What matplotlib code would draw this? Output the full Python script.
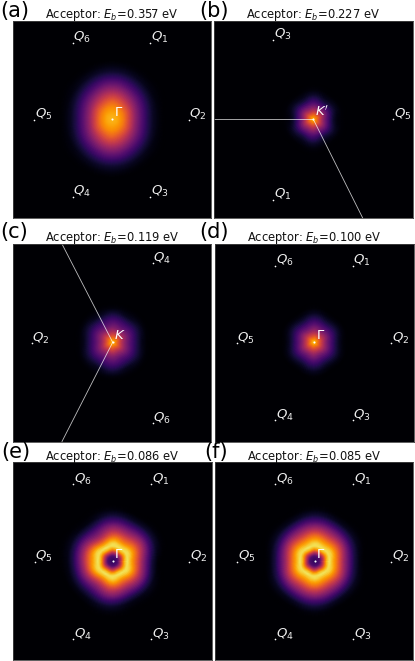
import numpy as np
import matplotlib
matplotlib.use("Agg")
import matplotlib.pyplot as plt

W, H = 415, 661

# Density read along rays from each panel centre (inferno scale 0-1).
# Rows: rays at 0, 30, 60, 90 degrees (mirrored) or every 30 degrees for (e).
radii_a = [0, 6, 12, 18, 24, 30, 36, 42, 48, 54, 60]
rays_a = [[.84, .81, .71, .55, .38, .25, .14, .06, .02, 0, 0],
          [.84, .81, .72, .58, .42, .29, .18, .09, .03, .01, 0],
          [.84, .81, .74, .62, .49, .36, .24, .14, .06, .02, 0],
          [.84, .81, .75, .65, .53, .40, .28, .17, .08, .03, 0]]
radii_b = [0, 3, 6, 9, 12, 15, 18, 21, 25, 30, 36]
rays_b = [[.85, .73, .60, .46, .34, .24, .15, .08, .03, .01, 0],
          [.85, .74, .61, .48, .37, .27, .18, .11, .05, .01, 0],
          [.85, .73, .60, .47, .36, .27, .18, .11, .05, .01, 0],
          [.85, .74, .61, .48, .37, .28, .20, .14, .07, .02, 0]]
radii_c = [0, 3, 6, 9, 12, 15, 18, 22, 26, 30, 35, 40]
rays_c = [[.85, .75, .63, .51, .41, .33, .26, .18, .11, .05, .01, 0],
          [.85, .76, .64, .53, .43, .35, .28, .20, .13, .07, .02, 0],
          [.85, .75, .63, .52, .42, .34, .27, .20, .13, .06, .02, 0],
          [.85, .76, .64, .53, .43, .35, .29, .22, .15, .08, .02, 0]]
radii_d = [0, 3, 6, 9, 12, 15, 18, 22, 26, 30, 35, 40]
rays_d = [[.88, .75, .62, .50, .39, .30, .22, .13, .06, .02, 0, 0],
          [.88, .76, .63, .51, .41, .32, .24, .15, .08, .03, 0, 0],
          [.88, .75, .62, .51, .40, .31, .24, .15, .08, .03, 0, 0],
          [.88, .76, .63, .51, .41, .33, .26, .18, .11, .05, .01, 0]]
radii_ef = [0, 5, 9, 12, 15, 18, 22, 26, 30, 35, 40, 46, 52, 58]
rays_e = [[.16, .24, .56, .83, .94, .86, .73, .59, .43, .26, .11, .02, 0, 0],
          [.16, .24, .54, .80, .93, .90, .77, .65, .52, .37, .21, .08, .02, 0],
          [.16, .24, .56, .83, .94, .87, .73, .61, .48, .34, .20, .07, .01, 0],
          [.16, .24, .54, .80, .93, .90, .76, .61, .48, .35, .21, .09, .02, 0],
          [.16, .24, .56, .83, .94, .85, .67, .50, .38, .26, .14, .04, .01, 0],
          [.16, .24, .54, .80, .93, .89, .74, .58, .43, .28, .14, .04, .01, 0],
          [.16, .24, .55, .82, .94, .88, .76, .62, .46, .29, .14, .04, .01, 0],
          [.16, .24, .54, .80, .93, .89, .74, .57, .41, .25, .12, .03, 0, 0],
          [.16, .24, .56, .83, .94, .86, .69, .53, .40, .27, .15, .05, .01, 0],
          [.16, .24, .54, .80, .93, .90, .77, .62, .48, .34, .19, .07, .02, 0],
          [.16, .24, .56, .83, .94, .87, .73, .59, .45, .30, .15, .04, .01, 0],
          [.16, .24, .54, .80, .93, .90, .77, .62, .47, .31, .15, .04, .01, 0]]
rays_f = [[.16, .24, .56, .83, .94, .86, .73, .58, .42, .26, .12, .03, 0, 0],
          [.16, .24, .54, .80, .93, .89, .76, .62, .48, .31, .16, .05, .01, 0],
          [.16, .24, .56, .83, .94, .87, .75, .62, .49, .34, .19, .06, .01, 0],
          [.16, .24, .54, .80, .93, .90, .78, .66, .52, .37, .22, .09, .02, 0]]

letters = ["(a)", "(b)", "(c)", "(d)", "(e)", "(f)"]
energies = ["0.357", "0.227", "0.119", "0.100", "0.086", "0.085"]
symbols = [r"$\Gamma$", r"$K'$", r"$K$", r"$\Gamma$", r"$\Gamma$", r"$\Gamma$"]
boxes = [(12.5, 211, 21, 218), (213.5, 413, 21, 218), (12.5, 211, 244, 441.5),
         (214.5, 413.5, 244, 441.5), (13, 212, 462, 660), (215, 413, 462, 660)]
centres = [(112, 119), (313.3, 119.3), (112.7, 342.3),
           (314, 342.3), (112.7, 561), (314.7, 561)]
radii = [radii_a, radii_b, radii_c, radii_d, radii_ef, radii_ef]
rays = [rays_a, rays_b, rays_c, rays_d, rays_e, rays_f]
q_points = [
    {"1": (150, 42.7), "2": (188.7, 120), "3": (150, 197), "4": (72.7, 197), "5": (34, 120), "6": (72.7, 42.7)},
    {"3": (273, 40), "1": (273, 200), "5": (393, 119.5)},
    {"4": (152.7, 263.3), "6": (152.7, 423.3), "2": (31.7, 343.3)},
    {"1": (352.7, 265.7), "2": (391.3, 343), "3": (352.7, 420), "4": (275.3, 420), "5": (236.7, 343), "6": (275.3, 265.7)},
    {"1": (151, 484.3), "2": (189.3, 561.7), "3": (151, 639), "4": (73.3, 639), "5": (34.7, 561.7), "6": (73.3, 484.3)},
    {"1": (353.3, 484.3), "2": (391.3, 561.7), "3": (353.3, 639), "4": (275.3, 639), "5": (237.3, 561.7), "6": (275.3, 484.3)},
]
path_ends = [[], [(213.5, 119.3), (362.7, 218)], [(62, 244), (62, 441.5)], [], [], []]
letter_pos = [(0, 17), (199, 17), (0, 238), (199, 238), (1, 458), (204, 458)]
title_pos = [(111.5, 18), (313, 18), (112, 241), (314, 241), (112.5, 460), (314.5, 460)]
CMAP = "inferno"

fig = plt.figure(figsize=(W / 100, H / 100), dpi=100)


def full_rays(rows):
    """Expand a quadrant of rays to the full circle (not closed)."""
    rows = [list(r) for r in rows]
    if len(rows) == 4:
        q0, q30, q60, q90 = rows
        rows = [q0, q30, q60, q90, q60, q30, q0, q30, q60, q90, q60, q30]
    return np.array(rows)


def display_mesh(rr, z, n_ang=96, n_rad=120):
    """Refine the ray table for smooth display shading only."""
    F = np.fft.rfft(z, axis=0)
    fine = np.fft.irfft(F, n=n_ang, axis=0) * n_ang / z.shape[0]
    rfine = np.linspace(rr[0], rr[-1], n_rad)
    out = np.array([np.interp(rfine, rr, row) for row in fine])
    kernel = np.array([1, 2, 3, 2, 1]) / 9
    pad = np.pad(out, ((0, 0), (2, 2)), mode="edge")
    out = np.array([np.convolve(row, kernel, mode="valid") for row in pad])
    out = np.vstack([out, out[:1]])
    return rfine, np.clip(out, 0, 1)


for i, (l, r, t, b) in enumerate(boxes):
    ax = fig.add_axes([l / W, 1 - b / H, (r - l) / W, (b - t) / H])
    ax.set_xlim(l, r)
    ax.set_ylim(b, t)
    ax.set_xticks([])
    ax.set_yticks([])
    ax.set_facecolor(plt.get_cmap(CMAP)(0.0))
    for s in ax.spines.values():
        s.set_color("#444444")
        s.set_linewidth(0.6)

    cx, cy = centres[i]
    rr, z = display_mesh(np.array(radii[i], dtype=float), full_rays(rays[i]))
    theta = np.deg2rad(np.linspace(0, 360, z.shape[0]))
    X = cx + np.outer(np.cos(theta), rr)
    Y = cy - np.outer(np.sin(theta), rr)
    ax.pcolormesh(X, Y, z, shading="gouraud", cmap=CMAP, vmin=0, vmax=1)

    for (ex, ey) in path_ends[i]:
        ax.plot([ex, cx], [ey, cy], color="white", lw=0.6, alpha=0.75)
    ax.plot([cx], [cy], "o", ms=1.5, color="white", mew=0)
    ax.text(cx + 1.5, cy - 0.5, symbols[i], color="white", fontsize=9.5, ha="left", va="bottom")
    for k, (qx, qy) in q_points[i].items():
        ax.plot([qx], [qy], "o", ms=1.2, color="white", mew=0)
        ax.text(qx + 0.5, qy + 2.5, rf"$Q_{k}$", color="#eeeeee", fontsize=9.5, ha="left", va="bottom")

    tx, ty = title_pos[i]
    fig.text(tx / W, 1 - ty / H, rf"Acceptor: $E_b$={energies[i]} eV", fontsize=8.3,
             ha="center", va="baseline", color="#111111")
    lx, ly = letter_pos[i]
    fig.text(lx / W, 1 - ly / H, letters[i], fontsize=15, ha="left", va="baseline", color="black")

fig.savefig("out.png", dpi=100)
